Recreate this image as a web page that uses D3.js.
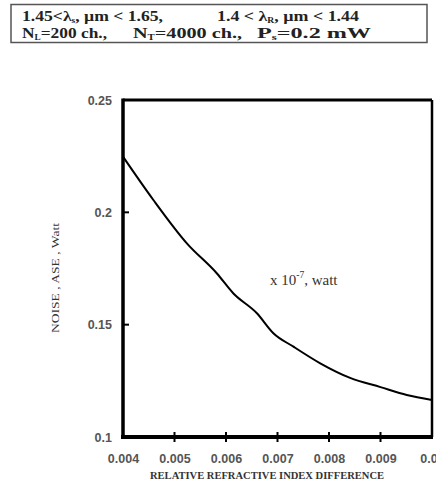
<!DOCTYPE html>
<html>
<head>
<meta charset="utf-8">
<script src="https://cdn.jsdelivr.net/npm/d3@7/dist/d3.min.js"></script>
<style>
body{margin:0;background:#fff;}
svg{display:block;}
</style>
</head>
<body>
<svg id="chart" width="436" height="487"></svg>
<script>
const deltaN = [0.004, 0.00459, 0.00524, 0.00582, 0.00614, 0.0066, 0.00692, 0.00731, 0.00783, 0.00841, 0.009, 0.00951, 0.01];
const noiseASE = [0.2248, 0.2055, 0.1862, 0.1729, 0.164, 0.1551, 0.1462, 0.1402, 0.1328, 0.1263, 0.1222, 0.1187, 0.1165];
const xTicks = [0.004, 0.005, 0.006, 0.007, 0.008, 0.009, 0.01];
const xTickLabels = ["0.004", "0.005", "0.006", "0.007", "0.008", "0.009", "0.01"];
const yTicks = [0.1, 0.15, 0.2, 0.25];
const yTickLabels = ["0.1", "0.15", "0.2", "0.25"];

const svg = d3.select("#chart");
const L = 123, R = 432, T = 100, B = 437;
const x = d3.scaleLinear().domain([0.004, 0.01]).range([L, R]);
const y = d3.scaleLinear().domain([0.1, 0.25]).range([B, T]);

// header box
svg.append("rect").attr("x", 11).attr("y", 4.5).attr("width", 416).attr("height", 38)
  .attr("fill", "none").attr("stroke", "#555").attr("stroke-width", 1.5);
const hdr = svg.append("g").attr("font-family", "Liberation Serif, serif").attr("font-weight", "bold")
  .attr("font-size", 15).attr("fill", "#222");
function line(xp, yp, w, parts){
  const t = hdr.append("text").attr("x", xp).attr("y", yp)
    .attr("textLength", w).attr("lengthAdjust", "spacingAndGlyphs");
  parts.forEach(p => {
    const s = t.append("tspan").text(p[0]);
    if (p[1] === "sub") s.attr("font-size", 8).attr("dy", 2.5);
    if (p[1] === "back") s.attr("dy", -2.5);
  });
}
line(22, 20.5, 141, [["1.45<λ"],["s","sub"],[", µm < 1.65,","back"]]);
line(217, 20.5, 142, [["1.4 < λ"],["R","sub"],[", µm < 1.44","back"]]);
line(22, 37.5, 85, [["N"],["L","sub"],["=200 ch.,","back"]]);
line(133, 37.5, 109, [["N"],["T","sub"],["=4000 ch.,","back"]]);
line(257, 37.5, 114, [["P"],["s","sub"],["=0.2 mW","back"]]);

// axes
const xAxis = d3.axisBottom(x).tickValues(xTicks).tickSize(0).tickFormat((d,i)=>xTickLabels[i]);
const gx = svg.append("g").attr("transform", `translate(0,${B})`).call(xAxis);
gx.select(".domain").remove();
gx.selectAll("text").attr("dy", 0).attr("y", 26).attr("font-family", "Liberation Sans, Arial, sans-serif")
  .attr("font-size", 12.5).attr("font-weight", "bold").attr("fill", "#555");
const yAxis = d3.axisLeft(y).tickValues(yTicks).tickSize(0).tickFormat((d,i)=>yTickLabels[i]);
const gy = svg.append("g").attr("transform", `translate(${L},0)`).call(yAxis);
gy.select(".domain").remove();
gy.selectAll("text").attr("x", -11).attr("font-family", "Liberation Sans, Arial, sans-serif")
  .attr("font-size", 12.5).attr("font-weight", "bold").attr("fill", "#555");

// tick marks
svg.append("g").selectAll("line").data(xTicks.slice(1, -1)).join("line")
  .attr("x1", d => x(d)).attr("x2", d => x(d)).attr("y1", B - 5).attr("y2", B + 5)
  .attr("stroke", "#000").attr("stroke-width", 2);
svg.append("g").selectAll("line").data(yTicks.slice(1, -1)).join("line")
  .attr("x1", L).attr("x2", L + 6).attr("y1", d => y(d)).attr("y2", d => y(d))
  .attr("stroke", "#000").attr("stroke-width", 2);

// frame
svg.append("line").attr("x1", L).attr("x2", R).attr("y1", T).attr("y2", T).attr("stroke", "#000").attr("stroke-width", 3);
svg.append("line").attr("x1", R).attr("x2", R).attr("y1", T).attr("y2", B).attr("stroke", "#000").attr("stroke-width", 2.5);
svg.append("line").attr("x1", L).attr("x2", L).attr("y1", T - 1.5).attr("y2", B + 2).attr("stroke", "#000").attr("stroke-width", 3.5);
svg.append("line").attr("x1", L - 2).attr("x2", R + 1).attr("y1", B).attr("y2", B).attr("stroke", "#000").attr("stroke-width", 4);

// curve
const ln = d3.line().x((d,i)=>x(deltaN[i])).y(d=>y(d)).curve(d3.curveMonotoneX);
svg.append("path").datum(noiseASE).attr("d", ln).attr("fill", "none").attr("stroke", "#000").attr("stroke-width", 2);

// annotation
const ann = svg.append("text").attr("x", 270).attr("y", 285).attr("font-family", "Liberation Serif, serif")
  .attr("font-size", 15).attr("fill", "#333");
ann.append("tspan").text("x 10");
ann.append("tspan").text("-7").attr("font-size", 9.5).attr("dy", -7);
ann.append("tspan").text(", watt").attr("dy", 7);

// axis titles
svg.append("text").attr("x", 267).attr("y", 479).attr("text-anchor", "middle")
  .attr("font-family", "Liberation Serif, serif").attr("font-weight", "bold").attr("font-size", 10)
  .attr("textLength", 234).attr("lengthAdjust", "spacingAndGlyphs")
  .attr("fill", "#333").text("RELATIVE REFRACTIVE INDEX DIFFERENCE");
svg.append("text").attr("transform", "translate(59,278) rotate(-90)").attr("text-anchor", "middle")
  .attr("font-family", "Liberation Serif, serif").attr("font-size", 10.5)
  .attr("textLength", 110).attr("lengthAdjust", "spacingAndGlyphs")
  .attr("fill", "#333").text("NOISE , ASE , Watt");
</script>
</body>
</html>
